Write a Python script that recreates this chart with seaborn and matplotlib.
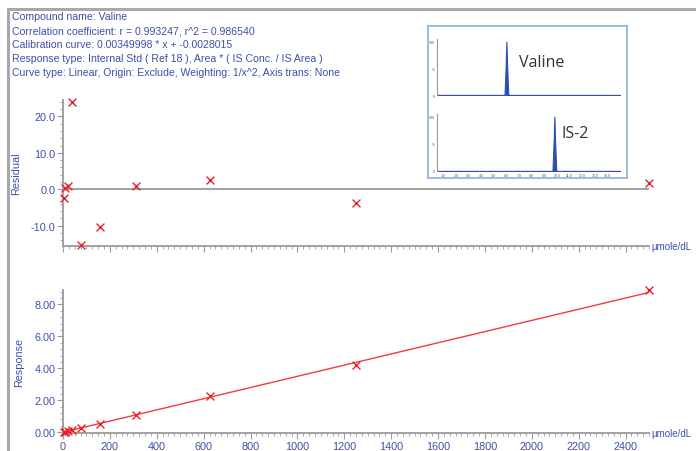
import matplotlib
matplotlib.use('Agg')
import matplotlib.pyplot as plt
import matplotlib.ticker as mticker
from matplotlib.lines import Line2D
import seaborn as sns
import pandas as pd

# calibration standards (umole/dL) and values
conc = [4.88, 9.77, 19.53, 39.06, 78.13, 156.25, 312.5, 625, 1250, 2500]
residual = [-2.5, 0.4, 0.9, 24.0, -15.3, -10.4, 0.8, 2.6, -3.7, 1.7]
response = [0.014, 0.031, 0.066, 0.167, 0.232, 0.487, 1.10, 2.24, 4.21, 8.89]
slope = 0.00349998
intercept = -0.0028015
fit_x = [0, 2500]

header = ["Compound name: Valine",
          "Correlation coefficient: r = 0.993247, r^2 = 0.986540",
          "Calibration curve: 0.00349998 * x + -0.0028015",
          "Response type: Internal Std ( Ref 18 ), Area * ( IS Conc. / IS Area )",
          "Curve type: Linear, Origin: Exclude, Weighting: 1/x^2, Axis trans: None"]

# inset chromatogram traces (retention time, % intensity)
valine_rt = [0.5, 5.85, 5.95, 6.0, 6.05, 6.15, 15.0]
valine_int = [0, 0, 60, 100, 60, 0, 0]
is2_rt = [0.5, 9.65, 9.75, 9.8, 9.85, 9.95, 15.0]
is2_int = [0, 0, 60, 100, 60, 0, 0]
inset_ticks = [1.0, 2.0, 3.0, 4.0, 5.0, 6.0, 7.0, 8.0, 9.0, 10.0, 11.0, 12.0, 13.0, 14.0]

blue = '#3d50a8'
red = '#e8202a'
gray = '#9a9a9a'

sns.set_style('white')
plt.rcParams['font.family'] = ['Liberation Sans', 'DejaVu Sans']

W, H = 696, 452
fig = plt.figure(figsize=(W / 100, H / 100), dpi=100)


def fbox(x0, y0, x1, y1):
    return [x0 / W, 1 - y1 / H, (x1 - x0) / W, (y1 - y0) / H]


# gray frame on top and left
fig.add_artist(Line2D([8 / W, 1], [1 - 10 / H, 1 - 10 / H], color='#a8a8a8', lw=2.2))
fig.add_artist(Line2D([8 / W, 8 / W], [0, 1 - 10 / H], color='#a8a8a8', lw=2.2))

for i, line in enumerate(header):
    fig.text(12 / W, 1 - (17 + 14 * i) / H, line, color=blue, fontsize=7.6, va='center')


def style_axis(ax):
    for s in ['top', 'right']:
        ax.spines[s].set_visible(False)
    for s in ['left', 'bottom']:
        ax.spines[s].set_color(gray)
        ax.spines[s].set_linewidth(1.3)
    ax.tick_params(which='major', direction='out', length=4, width=0.8, color=gray,
                   labelcolor=blue, labelsize=7.8, pad=1.5, left=True, bottom=True)
    ax.tick_params(which='minor', direction='out', length=2, width=0.6, color=gray,
                   left=True, bottom=True)
    ax.set_xlim(0, 2500)
    ax.xaxis.set_major_locator(mticker.MultipleLocator(200))
    ax.xaxis.set_minor_locator(mticker.MultipleLocator(25))
    ax.set_facecolor('none')


df = pd.DataFrame({'conc': conc, 'residual': residual, 'response': response})

# residual panel
ax1 = fig.add_axes(fbox(63, 101, 649, 247))
style_axis(ax1)
ax1.axhline(0, color=gray, lw=1.3, zorder=1)
sns.scatterplot(data=df, x='conc', y='residual', marker='x', color=red, s=32,
                linewidth=1.0, ax=ax1, clip_on=False, zorder=3)
ax1.set_ylim(-15.6, 24.5)
ax1.yaxis.set_major_locator(mticker.MultipleLocator(10))
ax1.yaxis.set_minor_locator(mticker.MultipleLocator(2))
ax1.yaxis.set_major_formatter(mticker.FormatStrFormatter('%.1f'))
ax1.set_xticklabels([])
ax1.set_xlabel('')
ax1.set_ylabel('Residual', color=blue, fontsize=7.8, labelpad=7)
ax1.text(1.004, 0.0, 'µmole/dL', transform=ax1.transAxes, color=blue, fontsize=7.0,
         va='center', ha='left')

# response panel
ax2 = fig.add_axes(fbox(63, 291, 649, 434))
style_axis(ax2)
fit_df = pd.DataFrame({'conc': fit_x, 'fit': [slope * v + intercept for v in fit_x]})
sns.lineplot(data=fit_df, x='conc', y='fit', color='#f03c3c', lw=1.0, ax=ax2, zorder=2)
sns.scatterplot(data=df, x='conc', y='response', marker='x', color=red, s=32,
                linewidth=1.0, ax=ax2, clip_on=False, zorder=3)
ax2.set_ylim(-0.05, 8.9)
ax2.yaxis.set_major_locator(mticker.MultipleLocator(2))
ax2.yaxis.set_minor_locator(mticker.MultipleLocator(0.4))
ax2.yaxis.set_major_formatter(mticker.FormatStrFormatter('%.2f'))
ax2.set_xlabel('')
ax2.set_ylabel('Response', color=blue, fontsize=7.8, labelpad=7)
ax2.text(1.004, 0.0, 'µmole/dL', transform=ax2.transAxes, color=blue, fontsize=7.0,
         va='center', ha='left')

# inset chromatogram box
box = fig.add_axes(fbox(428, 27, 627, 179))
box.set_xticks([])
box.set_yticks([])
box.set_facecolor('white')
for s in box.spines.values():
    s.set_color('#8fb6e0')
    s.set_linewidth(1.3)

traces = [(valine_rt, valine_int, 'Valine', fbox(437, 40, 620, 96), 0.45, 0.59),
          (is2_rt, is2_int, 'IS-2', fbox(437, 115, 620, 172), 0.68, 0.66)]
for rt, inten, name, pos, tx, ty in traces:
    ax = fig.add_axes(pos)
    ax.set_facecolor('none')
    ax.fill_between(rt, inten, color='#2f4fb0', lw=0.8)
    ax.axhline(0, color='#e83030', lw=0.8)
    ax.set_xlim(0.5, 15)
    ax.set_ylim(0, 105)
    for s in ['top', 'right', 'bottom']:
        ax.spines[s].set_visible(False)
    ax.spines['left'].set_color(gray)
    ax.spines['left'].set_linewidth(0.8)
    ax.set_yticks([0, 50, 100])
    ax.set_yticklabels(['0', '%', '100'])
    ax.set_xticks(inset_ticks if name == 'IS-2' else [])
    ax.set_xticklabels([f'{t:.1f}' for t in inset_ticks] if name == 'IS-2' else [])
    ax.tick_params(labelsize=2.5, length=1, pad=0.5, color=gray, labelcolor='#555555')
    ax.text(tx, ty, name, transform=ax.transAxes,
            fontsize=11.5, color='#333333', va='center', ha='left',
            family=['Open Sans', 'DejaVu Sans'])

fig.savefig('out.png', dpi=100)
